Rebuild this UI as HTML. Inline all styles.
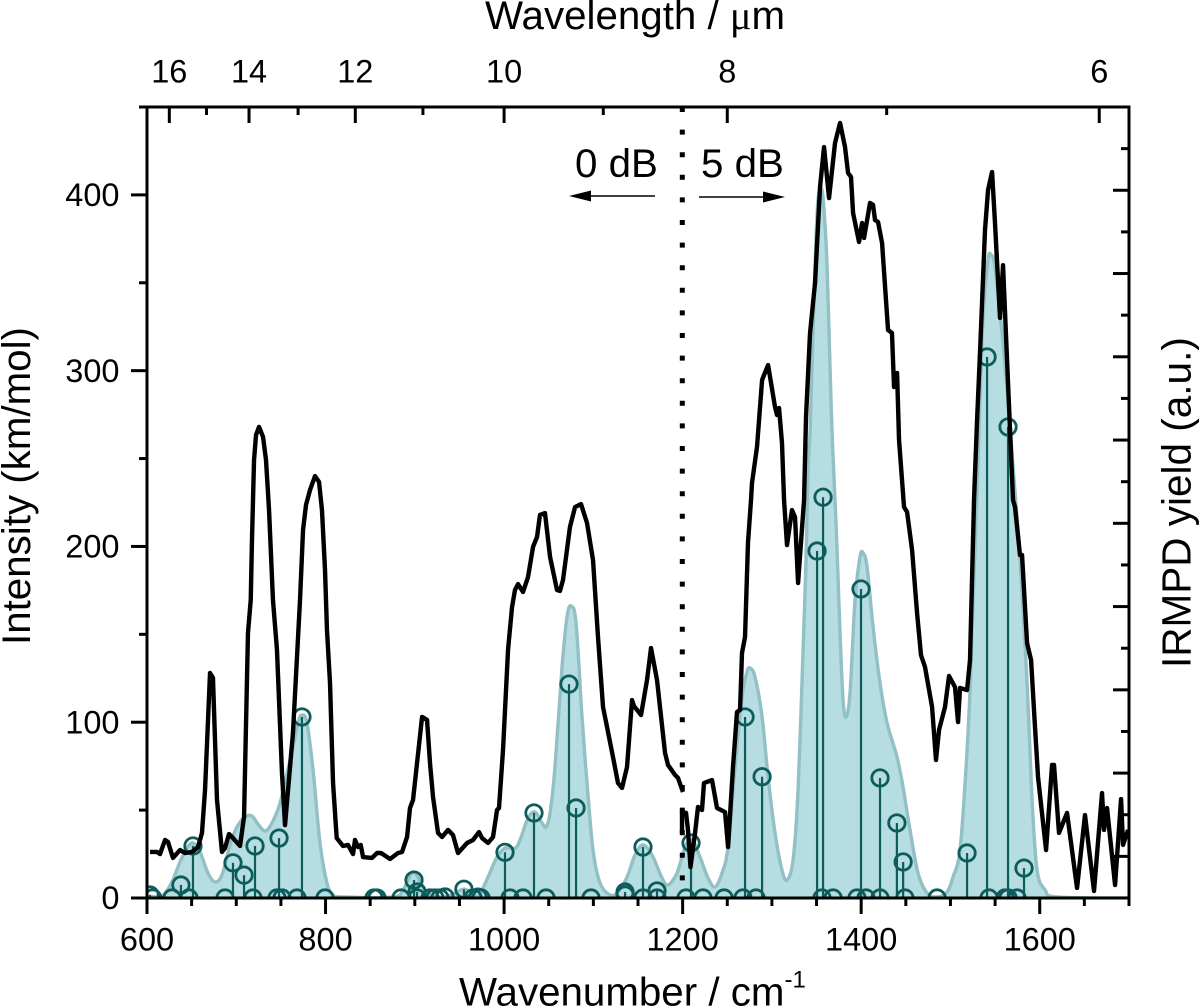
<!DOCTYPE html>
<html lang="en">
<head>
<meta charset="utf-8">
<title>IRMPD spectrum with computed IR intensities</title>
<style>
html,body{margin:0;padding:0;background:#fff;}
body{width:1200px;height:1007px;overflow:hidden;}
svg{display:block;}
text{font-family:"Liberation Sans",Arial,sans-serif;fill:#000;}
</style>
</head>
<body>
<svg id="chart" xmlns="http://www.w3.org/2000/svg" width="1200" height="1007" viewBox="0 0 1200 1007">
  <defs>
    <clipPath id="plot-clip"><rect x="147" y="107" width="982" height="791"></rect></clipPath>
  </defs>
  <g id="envelope-layer" clip-path="url(#plot-clip)"></g>
  <g id="stick-layer" clip-path="url(#plot-clip)"></g>
  <g id="irmpd-layer" clip-path="url(#plot-clip)"></g>
  <line id="divider" x1="682.3" x2="682.3" y1="107" y2="898" stroke="#000" stroke-width="5" stroke-dasharray="5 17.6"></line>
  <g id="axes-layer"></g>

  <text x="575" y="177" font-size="40.3">0 dB</text>
  <text x="701" y="177" font-size="40.3">5 dB</text>
  <g>
    <line x1="655" x2="585" y1="196" y2="196" stroke="#000" stroke-width="1.6"></line>
    <polygon points="569,196 591,190.5 591,201.5" fill="#000"></polygon>
  </g>
  <g>
    <line x1="699" x2="770" y1="197" y2="197" stroke="#000" stroke-width="1.6"></line>
    <polygon points="785,197 763,191.5 763,202.5" fill="#000"></polygon>
  </g>

  <text x="459" y="1005.5" font-size="40.3">Wavenumber / cm<tspan font-size="24" dy="-18">-1</tspan></text>
  <text x="485" y="29" font-size="40.3">Wavelength / <tspan font-family="'Liberation Serif',serif">μ</tspan>m</text>
  <text transform="translate(30,645) rotate(-90)" font-size="40.3">Intensity (km/mol)</text>
  <text transform="translate(1190.7,668) rotate(-90)" font-size="40.5">IRMPD yield (a.u.)</text>
</svg>
<script>
// ----- Axis ranges -----
const xDomain = [600, 1700];
const yDomain = [0, 450];
const yieldDomain = [0, 9.5];

// ----- Tick values -----
const xMajorTicks = [600, 800, 1000, 1200, 1400, 1600];
const xMinorTicks = [650, 700, 750, 850, 900, 950, 1050, 1100, 1150, 1250, 1300, 1350, 1450, 1500, 1550, 1650, 1700];
const yMajorTicks = [0, 100, 200, 300, 400];
const yMinorTicks = [50, 150, 250, 350, 450];
const topMajorTicks = [16, 14, 12, 10, 8, 6];
const topMinorTicks = [15, 13, 11, 9, 7];
const yieldMajorTicks = [0.5, 1.5, 2.5, 3.5, 4.5, 5.5, 6.5, 7.5, 8.5];
const yieldMinorTicks = [1, 2, 3, 4, 5, 6, 7, 8, 9];

// ----- IRMPD trace, 0 dB part (wavenumber / cm-1, intensity) -----
const irmpdLowX = [603.4,611.2,614.6,620.2,623.5,629.1,637,642.6,650.4,657.1,661.6,665,670.6,673.9,678.4,684,687.4,691.9,696.3,704.2,708.7,713.1,716.2,717.6,719.9,722.1,725.5,730,733.3,736.7,741.1,745.6,751.2,754.6,763.5,771.4,774.8,778.1,782.6,788.2,792.7,796,799.4,801.6,805,808.4,812.5,819.6,825.2,830.8,833,836.4,839.4,842,852,857.7,862.1,872.2,881.2,885.7,891.3,894.6,898,902.5,908.1,913.7,917,920.4,926,930.5,937.2,942.8,948.4,958.5,965.2,971.9,975.3,982,987.6,992.1,994.3,998.8,1004.4,1008.9,1012.2,1015.6,1021.2,1026.8,1032.4,1036.9,1040.2,1045.8,1051.5,1059.3,1062.6,1066,1073.8,1079.5,1086.2,1092.9,1099.6,1105.2,1110.8,1115.3,1122,1127.6,1132.1,1137.7,1143.3,1145.5,1153.4,1160.1,1164.6,1171.3,1180.3,1183.6,1191.5,1194.8,1200.4];
const irmpdLowY = [26.2,26.2,25,33,31.9,22.8,27.3,25.6,26.2,29,37,61.4,128,125.2,55.8,26.2,28.4,36.4,34.1,29.6,46.1,150.8,169.5,203.7,249.2,263.4,268,262.3,249.2,220.7,169.5,141.1,71.1,41.5,93.9,169.5,209.4,223.6,232.1,240,236.7,220.7,186.6,152.5,122.3,65.4,34.1,29.6,30.2,25,33,29,30.2,23.3,22.8,25.6,25.6,22.2,25.6,26.2,34.7,51.2,55.8,76.8,103,101.3,76.8,57.5,37,34.7,38.7,35.8,25.6,31.3,33,37.5,34.1,31.3,34.7,50.1,51.2,84.2,141.1,165.5,175.2,178.6,174.1,182.6,199.7,205.4,217.9,219,194,175.2,174.7,180.9,211.1,222.4,224.1,213.3,192.3,148.5,108.7,97.3,80.2,65.4,62.6,74.5,112.6,109.2,104.1,124,142.2,124,82.5,75.7,70,68.3,60.3];

// ----- IRMPD trace, 5 dB part (wavenumber / cm-1, intensity) -----
const irmpdHighX = [1199.3,1199.3,1203.8,1206,1208.8,1213.9,1217.2,1221.7,1223.9,1232.9,1238.5,1247.5,1250.9,1256.4,1260.9,1264.3,1266.5,1269.9,1273.2,1276.6,1277.7,1283.3,1289,1295.7,1303.5,1305.7,1308,1311.3,1313.6,1316.9,1322.5,1325.9,1329.3,1336,1338.2,1342.7,1348.3,1353.9,1358.4,1364,1370.7,1376.3,1381.9,1385.3,1388.6,1390.9,1397.6,1401,1403.2,1409.9,1413.3,1415.5,1418.9,1423.4,1430.1,1434.5,1436.8,1440.2,1442.4,1448,1451.4,1457,1462.6,1467,1471.5,1479.4,1483.8,1487.2,1493.9,1498.4,1505.1,1508.5,1510.7,1518.6,1521.9,1526.4,1529.8,1533.1,1538.7,1542.1,1546.6,1549.9,1555.5,1558.9,1563.4,1570.1,1572.3,1577.9,1580.2,1585.8,1590.3,1594.7,1598.1,1607.1,1613.8,1616,1621.6,1630.6,1641.8,1650.7,1660.8,1669.8,1672,1675.4,1684.4,1691.1,1693.3,1698.9];
const irmpdHighY = [37,48.9,48.4,38.7,17.6,37,51.8,50.1,65.4,67.1,51.2,48.9,29,74.5,105.8,107,139.4,148.5,202,226.4,236.1,256.6,294.7,303.2,279.3,274.8,278.8,258.8,226.4,200.8,220.7,216.7,179.2,226.4,273.6,321.4,349.9,404.5,427.2,398.2,429.5,440.9,427.2,412.5,410.2,389.7,373.2,384,375.5,395.4,394.3,385.7,384.6,372.6,323.1,321.4,290.7,298.7,260.6,222.4,219.6,198,162.1,138.2,131.4,108.7,78.5,95.6,108.7,126.3,120,100.1,119.5,118.3,135.4,226.4,271.9,310,380,402.8,413,384,330,360,306,226.4,222.4,195.1,195.1,145.1,135.4,97.3,68.8,27.3,75.7,75.7,37,48.4,5.7,47.2,4,59.7,38.7,51.2,7.4,56.3,30.2,38.7];

// ----- Computed broadened envelope -----
const envelopeX = [600,614.6,620.2,628,637,644.8,651.5,659.4,668.3,676.2,684,693,700.8,709.8,717.6,724.3,732.2,740,749,760.2,769.2,773.6,779.2,786,793.8,801.6,808.4,819.6,875.6,886.8,898,908.1,917,933.8,945,955,964,970.8,976.4,982,992.1,1001,1012.2,1017.8,1026.8,1034.6,1042.5,1047,1051.5,1057,1064.9,1070.5,1075,1080.6,1087.3,1092.9,1099.6,1107.5,1118.7,1127.6,1137.7,1146.7,1155.6,1165.7,1176.9,1183.6,1193.7,1202.7,1210.5,1219.5,1228.4,1236.3,1244.1,1250.9,1258.7,1266.5,1272.1,1275.5,1281.1,1289,1295.7,1303.5,1311.3,1316.9,1323.7,1329.3,1334.9,1338.2,1340.5,1342.7,1344.9,1348.3,1351.6,1356.1,1359.5,1361.8,1365.1,1367.4,1370.7,1373,1376.3,1379.7,1383,1387.5,1393.1,1398.7,1402.1,1406.6,1413.3,1421.1,1429,1440.2,1446.9,1454.7,1463.7,1473.8,1485,1496.2,1502.9,1510.7,1517.5,1521.9,1525.3,1529.8,1533.1,1536.5,1542.1,1545.5,1549.9,1557.8,1564.5,1570.1,1574.6,1577.9,1585.8,1591.4,1597,1606,1619.4,1700];
const envelopeY = [1.1,0.6,2.8,9.1,20.5,28.4,31.3,26.2,14.2,9.1,13.1,30.2,40.4,46.1,46.6,42.1,38.1,42.7,54,78.5,99.6,104.1,99.6,72.8,31.3,8.5,1.7,0.6,0.6,4.6,14.8,7.4,1.7,0.6,2.8,5.1,2.8,1.1,5.7,11.9,23.3,28.4,28.4,33,45.5,48.9,42.7,40.4,48.4,74.5,131.4,159.9,166.1,156.4,103,65.4,27.3,8.5,1.7,3.4,11.9,24.5,30.2,24.5,11.4,7.4,14.2,29,33,23.3,11.4,6.3,14.2,29,74.5,114.3,128.6,130.8,125.7,103,68.8,37,15.9,10.2,21.6,61.4,141.1,192.3,245.2,264.5,302.1,359,397,402.8,382.9,359,302.1,264.5,226.4,198,150.8,112.6,103,116.6,169.5,194,196.3,188.3,154.2,122.3,99.6,80.2,63.1,38.7,14.2,2.8,0.6,3.4,11.9,27.3,74.5,118.3,169.5,232,283.3,330.5,363,365.8,359,321.4,283.3,245.2,216.7,194,122.3,55.8,15.9,4.6,0.6,0];

// ----- Computed vibrational sticks -----
const stickX = [603.4,606.4,628,638,647,651.5,687.4,696.3,708.7,718.7,721,745.6,747.9,751.2,768,773.6,799.4,854.3,857.7,884.5,899.1,902.5,902.5,917,922.6,928.2,933.8,955,965.2,970.8,974.2,1001,1006.6,1021.2,1033.5,1047,1072.7,1080.6,1097.4,1135.5,1135.5,1155.6,1155.6,1171.3,1171.3,1203.8,1209.4,1222.8,1246.4,1267.6,1269.9,1282.2,1289,1350.6,1356.1,1357.3,1368.5,1395.3,1399.8,1405.4,1421.1,1421.1,1440,1447,1449,1485,1518.6,1541,1543.2,1561.1,1564.5,1564.5,1574.6,1582.4];
const stickY = [1.7,0,0,7.4,0,29.6,0,20,13,0,29.6,0,34.1,0,0,103,0,0,0,0,10.2,3.4,0,0,0,0,0.6,5,0,0.5,0,26,0,0,48.4,0,121.7,51.2,0,3.4,1.7,29,0,4,0,0,31.3,0,0,0,103,0,69,197.4,0,228,0,0,175.8,0,68.3,0,42.7,20.5,0,0,25.6,307.8,0,0,268,0,0,17];

// ----- Plot frame and scales -----
const plotLeft = 147, plotRight = 1129, plotTop = 107, plotBottom = 898;
function xScale(v) { return plotLeft + (v - xDomain[0]) / (xDomain[1] - xDomain[0]) * (plotRight - plotLeft); }
function yScale(v) { return plotBottom - (v - yDomain[0]) / (yDomain[1] - yDomain[0]) * (plotBottom - plotTop); }
function yieldScale(v) { return plotBottom - (v - yieldDomain[0]) / (yieldDomain[1] - yieldDomain[0]) * (plotBottom - plotTop); }
function topScale(um) { return xScale(10000 / um); }

const SVG_NS = 'http://www.w3.org/2000/svg';
const colors = { fill: '#b5dde2', edge: '#93c0c4', stick: '#0d5c5c', trace: '#000000', axis: '#000000' };

function make(tag, parent, attrs) {
  const el = document.createElementNS(SVG_NS, tag);
  Object.keys(attrs).forEach(function (k) { el.setAttribute(k, attrs[k]); });
  parent.appendChild(el);
  return el;
}

function polyPath(xs, ys) {
  let d = '';
  for (let i = 0; i < xs.length; i++) {
    d += (i === 0 ? 'M' : 'L') + xScale(xs[i]).toFixed(2) + ' ' + yScale(ys[i]).toFixed(2);
  }
  return d;
}

// Catmull-Rom smoothing through the envelope points
function smoothPath(xs, ys) {
  const px = xs.map(xScale), py = ys.map(yScale);
  let d = 'M' + px[0].toFixed(2) + ' ' + py[0].toFixed(2);
  for (let i = 0; i < px.length - 1; i++) {
    const a = Math.max(i - 1, 0), b = Math.min(i + 2, px.length - 1);
    const c1x = px[i] + (px[i + 1] - px[a]) / 6, c1y = py[i] + (py[i + 1] - py[a]) / 6;
    const c2x = px[i + 1] - (px[b] - px[i]) / 6, c2y = py[i + 1] - (py[b] - py[i]) / 6;
    d += 'C' + c1x.toFixed(2) + ' ' + c1y.toFixed(2) + ' ' + c2x.toFixed(2) + ' ' + c2y.toFixed(2) + ' ' + px[i + 1].toFixed(2) + ' ' + py[i + 1].toFixed(2);
  }
  return d;
}

// ----- Envelope -----
const envelopeLayer = document.getElementById('envelope-layer');
const envelopeLine = smoothPath(envelopeX, envelopeY);
const envelopeFill = make('path', envelopeLayer, {
  d: envelopeLine + 'L' + xScale(xDomain[1]) + ' ' + yScale(0) + 'L' + xScale(xDomain[0]) + ' ' + yScale(0) + 'Z',
  fill: colors.fill, stroke: 'none'
});


const envelopeEdge = make('path', envelopeLayer, {
  d: envelopeLine, fill: 'none', stroke: colors.edge, 'stroke-width': 3.4, 'stroke-linejoin': 'round'
});



// ----- Sticks -----
const stickLayer = document.getElementById('stick-layer');
stickX.forEach(function (x, i) {
  const line = make('line', stickLayer, {
    x1: xScale(x), x2: xScale(x), y1: yScale(0), y2: yScale(stickY[i]), stroke: colors.stick, 'stroke-width': 2.2
  });
  
  
  const dot = make('circle', stickLayer, {
    cx: xScale(x), cy: yScale(stickY[i]), r: 8.2, fill: 'none', stroke: colors.stick, 'stroke-width': 2.8
  });
  
  
});

// ----- IRMPD trace -----
const irmpdLayer = document.getElementById('irmpd-layer');
const traceLow = make('path', irmpdLayer, {
  d: polyPath(irmpdLowX, irmpdLowY), fill: 'none', stroke: colors.trace, 'stroke-width': 4.4, 'stroke-linejoin': 'round'
});


const traceHigh = make('path', irmpdLayer, {
  d: polyPath(irmpdHighX, irmpdHighY), fill: 'none', stroke: colors.trace, 'stroke-width': 4.4, 'stroke-linejoin': 'round'
});



// ----- Axes -----
const axes = document.getElementById('axes-layer');
const frame = make('rect', axes, {
  x: plotLeft, y: plotTop, width: plotRight - plotLeft, height: plotBottom - plotTop, fill: 'none', stroke: colors.axis, 'stroke-width': 3
});



function tickLine(x1, y1, x2, y2) {
  return make('line', axes, { x1: x1, y1: y1, x2: x2, y2: y2, stroke: colors.axis, 'stroke-width': 3 });
}
function tickLabel(x, y, str, anchor) {
  const t = make('text', axes, { x: x, y: y, 'font-size': 32.5, 'text-anchor': anchor });
  t.textContent = str;
  return t;
}

xMajorTicks.forEach(function (v) {
  const t = tickLine(xScale(v), plotBottom, xScale(v), plotBottom + 16);
  
  
  const l = tickLabel(xScale(v), 950.7, String(v), 'middle');
  
  
});
xMinorTicks.forEach(function (v) {
  const t = tickLine(xScale(v), plotBottom, xScale(v), plotBottom + 8);
  
  
});
yMajorTicks.forEach(function (v) {
  const t = tickLine(plotLeft - 16, yScale(v), plotLeft, yScale(v));
  
  
  const l = tickLabel(119.5, yScale(v) + 11.2, String(v), 'end');
  
  
});
yMinorTicks.forEach(function (v) {
  const t = tickLine(plotLeft - 8, yScale(v), plotLeft, yScale(v));
  
  
});
topMajorTicks.forEach(function (v) {
  const t = tickLine(topScale(v), plotTop, topScale(v), plotTop + 16);
  
  
  const l = tickLabel(topScale(v), 82.5, String(v), 'middle');
  
  
});
topMinorTicks.forEach(function (v) {
  const t = tickLine(topScale(v), plotTop, topScale(v), plotTop + 8);
  
  
});
yieldMajorTicks.forEach(function (v) {
  const t = tickLine(plotRight - 16, yieldScale(v), plotRight, yieldScale(v));
  
  
});
yieldMinorTicks.forEach(function (v) {
  const t = tickLine(plotRight - 8, yieldScale(v), plotRight, yieldScale(v));
  
  
});
</script>
</body>
</html>
